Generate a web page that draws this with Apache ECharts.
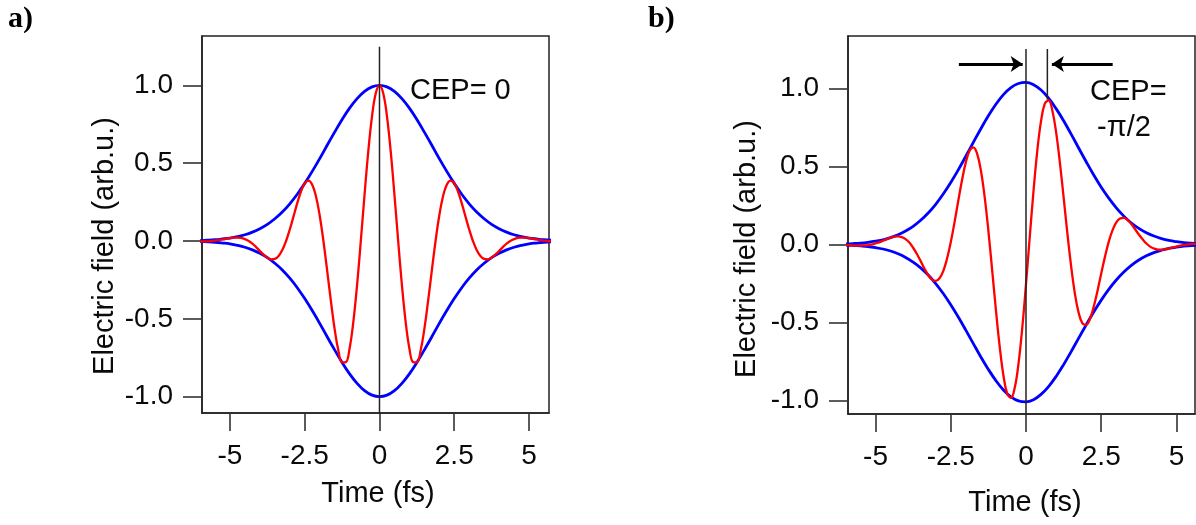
<!DOCTYPE html>
<html><head><meta charset="utf-8">
<script src="https://cdn.jsdelivr.net/npm/echarts@6/dist/echarts.min.js"></script>
<style>html,body{margin:0;padding:0;background:#fff}#c{width:1196px;height:525px}</style>
</head><body><div id="c"></div>
<script>
// ---- data ----
const tEnv = [-6,-5.75,-5.5,-5.25,-5,-4.75,-4.5,-4.25,-4,-3.75,-3.5,-3.25,-3,-2.75,-2.5,-2.25,-2,-1.75,-1.5,-1.25,-1,-0.75,-0.5,-0.25,0,0.25,0.5,0.75,1,1.25,1.5,1.75,2,2.25,2.5,2.75,3,3.25,3.5,3.75,4,4.25,4.5,4.75,5,5.25,5.5,5.75];
const tField = [-6,-5.875,-5.75,-5.625,-5.5,-5.375,-5.25,-5.125,-5,-4.875,-4.75,-4.625,-4.5,-4.375,-4.25,-4.125,-4,-3.875,-3.75,-3.625,-3.5,-3.375,-3.25,-3.125,-3,-2.875,-2.75,-2.625,-2.5,-2.375,-2.25,-2.125,-2,-1.875,-1.75,-1.625,-1.5,-1.375,-1.25,-1.125,-1,-0.875,-0.75,-0.625,-0.5,-0.375,-0.25,-0.125,0,0.125,0.25,0.375,0.5,0.625,0.75,0.875,1,1.125,1.25,1.375,1.5,1.625,1.75,1.875,2,2.125,2.25,2.375,2.5,2.625,2.75,2.875,3,3.125,3.25,3.375,3.5,3.625,3.75,3.875,4,4.125,4.25,4.375,4.5,4.625,4.75,4.875,5,5.125,5.25,5.375,5.5,5.625,5.75];

// panel a) CEP = 0
const envUpperA = [0.003,0.005,0.008,0.013,0.019,0.028,0.040,0.057,0.079,0.107,0.143,0.186,0.239,0.300,0.370,0.447,0.529,0.615,0.699,0.780,0.853,0.914,0.961,0.990,1.000,0.990,0.961,0.914,0.853,0.780,0.699,0.615,0.529,0.447,0.370,0.300,0.239,0.186,0.143,0.107,0.079,0.057,0.040,0.028,0.019,0.013,0.008,0.005];
const envLowerA = [-0.003,-0.005,-0.008,-0.013,-0.019,-0.028,-0.040,-0.057,-0.079,-0.107,-0.143,-0.186,-0.239,-0.300,-0.370,-0.447,-0.529,-0.615,-0.699,-0.780,-0.853,-0.914,-0.961,-0.990,-1.000,-0.990,-0.961,-0.914,-0.853,-0.780,-0.699,-0.615,-0.529,-0.447,-0.370,-0.300,-0.239,-0.186,-0.143,-0.107,-0.079,-0.057,-0.040,-0.028,-0.019,-0.013,-0.008,-0.005];
const fieldA = [-0.003,-0.002,-0.002,0,0.003,0.006,0.010,0.015,0.019,0.022,0.022,0.020,0.012,0,-0.017,-0.039,-0.064,-0.087,-0.107,-0.118,-0.115,-0.096,-0.058,0,0.074,0.158,0.243,0.318,0.370,0.388,0.362,0.287,0.164,0,-0.190,-0.386,-0.566,-0.704,-0.780,-0.778,-0.690,-0.520,-0.283,0,0.297,0.575,0.801,0.949,1.000,0.949,0.801,0.575,0.297,0,-0.283,-0.520,-0.690,-0.778,-0.780,-0.704,-0.566,-0.386,-0.190,0,0.164,0.287,0.362,0.388,0.370,0.318,0.243,0.158,0.074,0,-0.058,-0.096,-0.115,-0.118,-0.107,-0.087,-0.064,-0.039,-0.017,0,0.012,0.020,0.022,0.022,0.019,0.015,0.010,0.006,0.003,0,-0.002];

// panel b) CEP = -pi/2
const envUpperB = [0.004,0.006,0.009,0.014,0.021,0.030,0.044,0.062,0.086,0.116,0.155,0.202,0.258,0.324,0.398,0.479,0.566,0.655,0.743,0.826,0.900,0.962,1.007,1.033,1.040,1.025,0.991,0.939,0.872,0.794,0.708,0.619,0.531,0.446,0.367,0.297,0.235,0.182,0.138,0.103,0.075,0.054,0.038,0.026,0.018,0.012,0.008,0.005];
const envLowerB = [-0.004,-0.006,-0.009,-0.013,-0.020,-0.029,-0.042,-0.060,-0.083,-0.113,-0.150,-0.196,-0.251,-0.315,-0.387,-0.466,-0.550,-0.636,-0.722,-0.802,-0.874,-0.934,-0.978,-1.004,-1.010,-0.996,-0.962,-0.912,-0.847,-0.771,-0.688,-0.601,-0.516,-0.433,-0.357,-0.288,-0.228,-0.177,-0.134,-0.100,-0.073,-0.052,-0.037,-0.025,-0.017,-0.011,-0.007,-0.005];
const fieldB = [-0.003,-0.004,-0.006,-0.007,-0.007,-0.006,-0.004,0.000,0.007,0.014,0.024,0.034,0.043,0.050,0.052,0.047,0.034,0.012,-0.021,-0.061,-0.107,-0.154,-0.196,-0.225,-0.234,-0.217,-0.171,-0.092,0.014,0.142,0.281,0.414,0.527,0.601,0.623,0.583,0.476,0.307,0.088,-0.163,-0.419,-0.654,-0.841,-0.957,-0.985,-0.920,-0.766,-0.537,-0.255,0.049,0.344,0.601,0.793,0.904,0.925,0.860,0.721,0.527,0.302,0.071,-0.141,-0.316,-0.439,-0.506,-0.516,-0.477,-0.399,-0.298,-0.186,-0.078,0.018,0.092,0.142,0.167,0.171,0.157,0.131,0.098,0.064,0.033,0.006,-0.014,-0.026,-0.033,-0.034,-0.031,-0.026,-0.019,-0.013,-0.007,-0.003,0.001,0.003,0.004,0.004];

// reference lines / arrows
const zeroLineA = [[0, 1.248], [0, -1.2]];
const zeroLineB = [[0, 1.255], [0, -1.2]];
const peakLineB = [[0.71, 1.255], [0.71, 0.93]];
const arrowY = 1.158;
const arrowLeft = [[-2.23, arrowY], [-0.11, arrowY]];
const arrowRight = [[2.88, arrowY], [0.86, arrowY]];

// ticks
const xTickValues = [-5, -2.5, 0, 2.5, 5];
const xTickLabels = ['-5', '-2.5', '0', '2.5', '5'];
const yTickValues = [-1, -0.5, 0, 0.5, 1];
const yTickLabels = ['-1.0', '-0.5', '0.0', '0.5', '1.0'];

// ---- chart ----
const FONT = "'Liberation Sans', Arial, sans-serif";
const zip = (xs, ys) => xs.map((x, i) => [x, ys[i]]);
const fmt = (vals, labels) => v => { const i = vals.findIndex(a => Math.abs(a - v) < 1e-9); return i >= 0 ? labels[i] : ''; };

function xAxisCfg(idx, min, max) {
  return {
    type: 'value', gridIndex: idx, min, max,
    axisLine: { show: true, onZero: false, lineStyle: { color: '#222', width: 1.5 } },
    axisTick: { show: true, inside: false, length: 18, customValues: xTickValues, lineStyle: { color: '#333', width: 1.6 } },
    axisLabel: { customValues: xTickValues, formatter: fmt(xTickValues, xTickLabels), fontSize: 28, fontFamily: FONT, color: '#0a0a0a', margin: 29 },
    splitLine: { show: false }
  };
}
function yAxisCfg(idx, min, max) {
  return {
    type: 'value', gridIndex: idx, min, max,
    axisLine: { show: true, onZero: false, lineStyle: { color: '#222', width: 1.5 } },
    axisTick: { show: true, inside: false, length: 19, customValues: yTickValues, lineStyle: { color: '#333', width: 1.6 } },
    axisLabel: { customValues: yTickValues, formatter: fmt(yTickValues, yTickLabels), fontSize: 28, fontFamily: FONT, color: '#0a0a0a', margin: 29 },
    splitLine: { show: false }
  };
}
function curve(idx, data, color, width, z) {
  return { type: 'line', xAxisIndex: idx, yAxisIndex: idx, data, symbol: 'none', smooth: 0.4,
    lineStyle: { color, width }, silent: true, z };
}
function vline(idx, data) {
  return { type: 'line', xAxisIndex: idx, yAxisIndex: idx, data, symbol: 'none',
    lineStyle: { color: '#222', width: 1.5 }, silent: true, z: 5 };
}

const chart = echarts.init(document.getElementById('c'), null, { renderer: 'canvas' });
const arrowLineB = vline(1, peakLineB);
arrowLineB.markLine = {
  silent: true, symbol: ['none', 'arrow'], symbolSize: [12, 12],
  label: { show: false },
  lineStyle: { color: '#000', width: 2.8, type: 'solid' },
  data: [
    [{ coord: arrowLeft[0] }, { coord: arrowLeft[1] }],
    [{ coord: arrowRight[0] }, { coord: arrowRight[1] }]
  ]
};

chart.setOption({
  animation: false,
  backgroundColor: '#fff',
  grid: [
    { left: 202, top: 36, width: 347, height: 377, show: true, borderColor: '#222', borderWidth: 1.5, containLabel: false },
    { left: 848, top: 36, width: 347, height: 378, show: true, borderColor: '#222', borderWidth: 1.5, containLabel: false }
  ],
  xAxis: [xAxisCfg(0, -5.936, 5.669), xAxisCfg(1, -5.914, 5.615)],
  yAxis: [yAxisCfg(0, -1.1047, 1.3166), yAxisCfg(1, -1.088, 1.338)],
  series: [
    curve(0, zip(tEnv, envUpperA), '#0000ff', 2.8, 2),
    curve(0, zip(tEnv, envLowerA), '#0000ff', 2.8, 2),
    curve(0, zip(tField, fieldA), '#ff0000', 2.3, 3),
    vline(0, zeroLineA),
    curve(1, zip(tEnv, envUpperB), '#0000ff', 2.8, 2),
    curve(1, zip(tEnv, envLowerB), '#0000ff', 2.8, 2),
    curve(1, zip(tField, fieldB), '#ff0000', 2.3, 3),
    vline(1, zeroLineB),
    arrowLineB
  ],
  graphic: [
    { type: 'text', x: 8, y: 4, style: { text: 'a)', font: 'bold 30px "Liberation Serif", serif', fill: '#000', align: 'left', verticalAlign: 'top' } },
    { type: 'text', x: 648, y: 4, style: { text: 'b)', font: 'bold 30px "Liberation Serif", serif', fill: '#000', align: 'left', verticalAlign: 'top' } },
    { type: 'text', x: 105, y: 246, rotation: Math.PI / 2, style: { text: 'Electric field (arb.u.)', font: '29px ' + FONT, fill: '#0a0a0a', align: 'center', verticalAlign: 'middle' } },
    { type: 'text', x: 747, y: 249, rotation: Math.PI / 2, style: { text: 'Electric field (arb.u.)', font: '29px ' + FONT, fill: '#0a0a0a', align: 'center', verticalAlign: 'middle' } },
    { type: 'text', x: 378, y: 494, style: { text: 'Time (fs)', font: '29px ' + FONT, fill: '#0a0a0a', align: 'center', verticalAlign: 'middle' } },
    { type: 'text', x: 1025, y: 503, style: { text: 'Time (fs)', font: '29px ' + FONT, fill: '#0a0a0a', align: 'center', verticalAlign: 'middle' } },
    { type: 'text', x: 410, y: 91, style: { text: 'CEP= 0', font: '29px ' + FONT, fill: '#0a0a0a', align: 'left', verticalAlign: 'middle' } },
    { type: 'text', x: 1090, y: 92, style: { text: 'CEP=', font: '29px ' + FONT, fill: '#0a0a0a', align: 'left', verticalAlign: 'middle' } },
    { type: 'text', x: 1097, y: 128, style: { text: '-π/2', font: '29px ' + FONT, fill: '#0a0a0a', align: 'left', verticalAlign: 'middle' } }
  ]
});
</script></body></html>
